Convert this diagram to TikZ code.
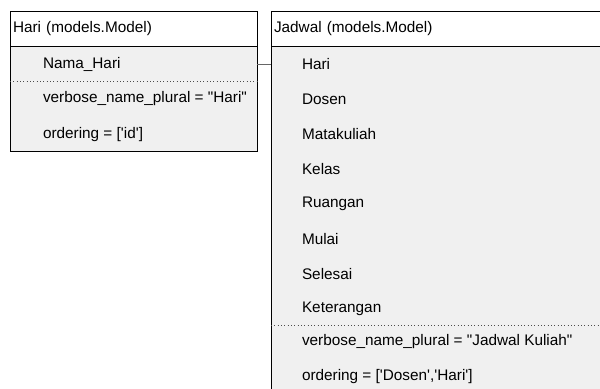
\documentclass[tikz,border=0pt]{standalone}
\usepackage{fontspec}
\setmainfont{Liberation Sans}[Ligatures=TeXOff]
\usetikzlibrary{calc}
\definecolor{bodygray}{HTML}{F0F0F0}

\begin{document}
\begin{tikzpicture}
	[x=0.75pt,y=-0.75pt,line width=0.75pt,
	every node/.style={inner sep=0pt,outer sep=0pt,
		font=\fontsize{11.5}{13}\selectfont},
	head/.style={draw,fill=white,anchor=north west,minimum height=26.25pt,
		align=left,inner xsep=2.25pt},
	body/.style={draw,fill=bodygray,anchor=north west},
	field/.style={anchor=west},
	sep/.style={dotted,line width=0.5pt,draw=black!70},
	link/.style={draw=black!60,line width=0.75pt}]
	\useasboundingbox (0,0) rectangle (600,389);
	\clip (0,0) rectangle (600,389);
	
	% Hari
	\node[body,minimum width=185.25pt,minimum height=78.75pt] (haribody) at (10,46) {};
	\node[head,text width=180.75pt] (harihead) at (10,11) {Hari (models.Model)};
	\foreach \n/\y/\txt in {1/64/Nama\_Hari,
		2/99/{verbose\_name\_plural = "Hari"},
		3/135/{ordering = ['id']}}
	{
		\node[field] (hr\n) at (43,\y) {\txt};
	}
	\draw[sep] (haribody.west |- 0,81) -- (haribody.east |- 0,81);
	
	% Jadwal
	\node[body,minimum width=261.75pt,minimum height=265.5pt] (jadwalbody) at (271,46) {};
	\node[head,text width=257.25pt] (jadwalhead) at (271,11) {Jadwal (models.Model)};
	\foreach \n/\y/\txt in {1/64/Hari,2/99/Dosen,3/134/Matakuliah,
		4/169/Kelas,5/204/Ruangan,6/239/Mulai,7/274/Selesai,
		8/309/Keterangan,
		9/342/{verbose\_name\_plural = "Jadwal Kuliah"},
		10/377/{ordering = ['Dosen','Hari']}}
	{
		\node[field] (jd\n) at (302,\y) {\txt};
	}
	\draw[sep] (jadwalbody.west |- 0,325) -- (jadwalbody.east |- 0,325);
	
	\draw[link] (haribody.east |- hr1) -- (jadwalbody.west |- hr1);
\end{tikzpicture}
\end{document}
